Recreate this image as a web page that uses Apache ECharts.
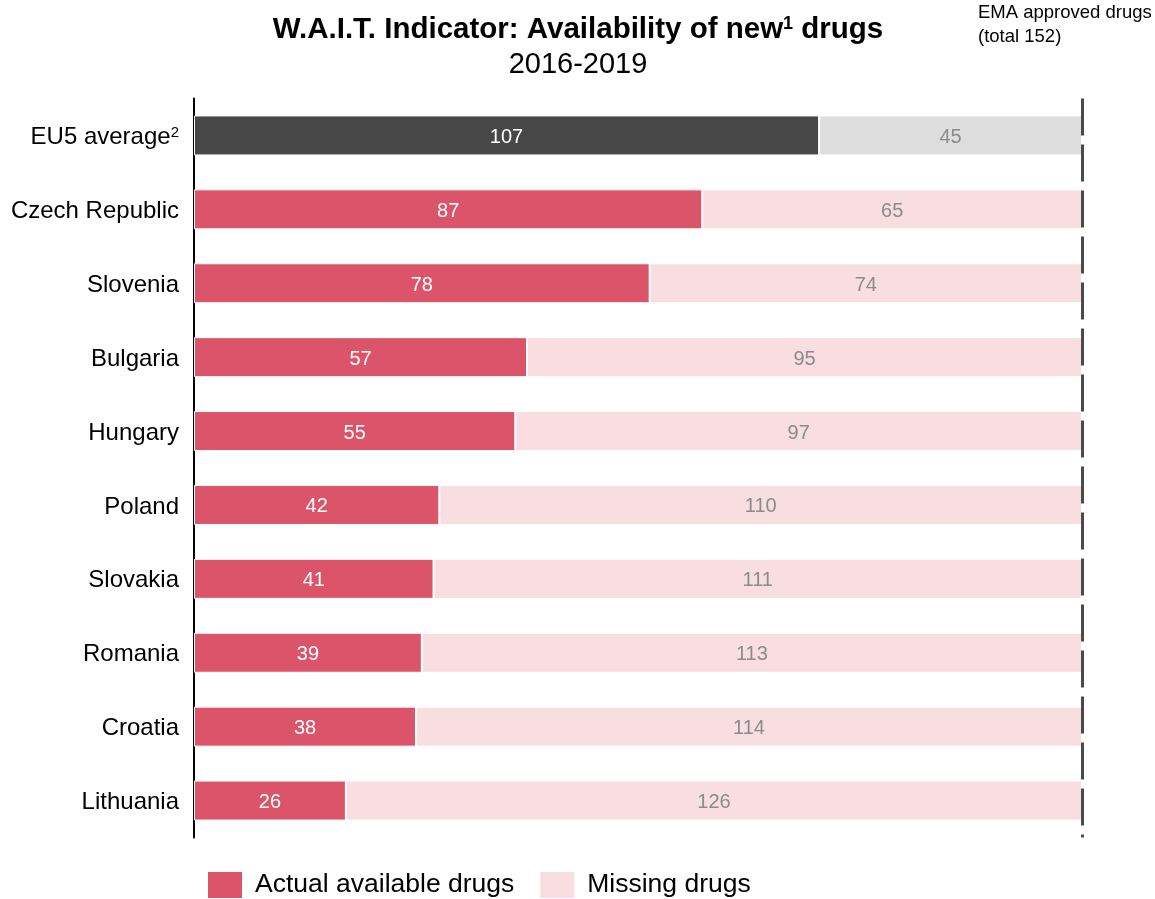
<!DOCTYPE html>
<html>
<head>
<meta charset="utf-8">
<title>W.A.I.T. Indicator</title>
<script src="https://cdn.jsdelivr.net/npm/echarts@6/dist/echarts.min.js"></script>
<style>
  html, body { margin: 0; padding: 0; background: #fff; }
  #chart { width: 1155px; height: 899px; }
</style>
</head>
<body>
<div id="chart"></div>
<script>
// Countries, top to bottom
const categories = ['EU5 average', 'Czech Republic', 'Slovenia', 'Bulgaria', 'Hungary',
  'Poland', 'Slovakia', 'Romania', 'Croatia', 'Lithuania'];
// Number of new drugs available per country
const availableDrugs = [107, 87, 78, 57, 55, 42, 41, 39, 38, 26];
// Number of EMA-approved drugs not available
const missingDrugs = [45, 65, 74, 95, 97, 110, 111, 113, 114, 126];
// Total EMA approved drugs in the period
const totalApproved = 152;

const FONT = '"Liberation Sans", Arial, sans-serif';
const RED = '#db5469', PINK = '#f8dde1', DARK = '#474747', GREY = '#dedede';

function coloured(values, highlight, normal) {
  return values.map((v, i) => ({
    value: v,
    itemStyle: { color: i === 0 ? highlight : normal }
  }));
}

const chart = echarts.init(document.getElementById('chart'), null, { renderer: 'canvas' });

chart.setOption({
  animation: false,
  backgroundColor: '#fff',
  textStyle: { fontFamily: FONT },
  title: [
    {
      text: 'W.A.I.T. Indicator: Availability of new{sup|1} drugs',
      left: 578, top: 15, textAlign: 'center', padding: 0,
      textStyle: {
        fontFamily: FONT, fontSize: 29.5, fontWeight: 'bold', color: '#000',
        rich: {
          sup: { fontFamily: FONT, fontSize: 18, fontWeight: 'bold', color: '#000', padding: [0, 0, 12, 0] }
        }
      }
    },
    {
      text: '2016-2019',
      left: 578, top: 50, textAlign: 'center', padding: 0,
      textStyle: { fontFamily: FONT, fontSize: 29, fontWeight: 'normal', color: '#000' }
    },
    {
      text: 'EMA approved drugs\n(total ' + totalApproved + ')',
      left: 978, top: 1, padding: 0,
      textStyle: { fontFamily: FONT, fontSize: 18.5, fontWeight: 'normal', color: '#000', lineHeight: 24 }
    }
  ],
  legend: {
    left: 206, top: 870, padding: 0,
    itemWidth: 36, itemHeight: 28, itemGap: 24,
    icon: 'rect',
    textStyle: { fontFamily: FONT, fontSize: 26.5, color: '#000', padding: [2, 0, 0, 7] },
    data: [
      { name: 'Actual available drugs', itemStyle: { color: RED } },
      { name: 'Missing drugs', itemStyle: { color: PINK } }
    ]
  },
  grid: { left: 194, right: 73, top: 98.5, bottom: 61.5, containLabel: false },
  xAxis: {
    type: 'value', min: 0, max: totalApproved,
    show: false
  },
  yAxis: {
    type: 'category',
    data: categories,
    inverse: true,
    axisLine: { show: true, lineStyle: { color: '#000', width: 2 } },
    axisTick: { show: false },
    axisLabel: {
      margin: 15,
      padding: [4, 0, 0, 0],
      fontFamily: FONT, fontSize: 24, color: '#000',
      formatter: v => v === 'EU5 average' ? v + '{sup|2}' : v,
      rich: {
        sup: { fontFamily: FONT, fontSize: 15, color: '#000', padding: [0, 0, 10, 0] }
      }
    }
  },
  series: [
    {
      name: 'Actual available drugs',
      type: 'bar', stack: 'total', barWidth: 40,
      itemStyle: { color: RED, borderColor: '#fff', borderWidth: 1 },
      label: {
        show: true, position: 'inside', offset: [0, 2],
        fontFamily: FONT, fontSize: 20, color: '#fff'
      },
      data: coloured(availableDrugs, DARK, RED)
    },
    {
      name: 'Missing drugs',
      type: 'bar', stack: 'total', barWidth: 40,
      itemStyle: { color: PINK, borderColor: '#fff', borderWidth: 1 },
      label: {
        show: true, position: 'inside', offset: [0, 2],
        fontFamily: FONT, fontSize: 20, color: '#8c8c8c'
      },
      data: coloured(missingDrugs, GREY, PINK),
      markLine: {
        silent: true,
        symbol: 'none',
        label: { show: false },
        lineStyle: { color: '#4a4a4a', width: 3, type: [37, 9] },
        data: [{ xAxis: totalApproved }]
      }
    }
  ]
});
</script>
</body>
</html>
